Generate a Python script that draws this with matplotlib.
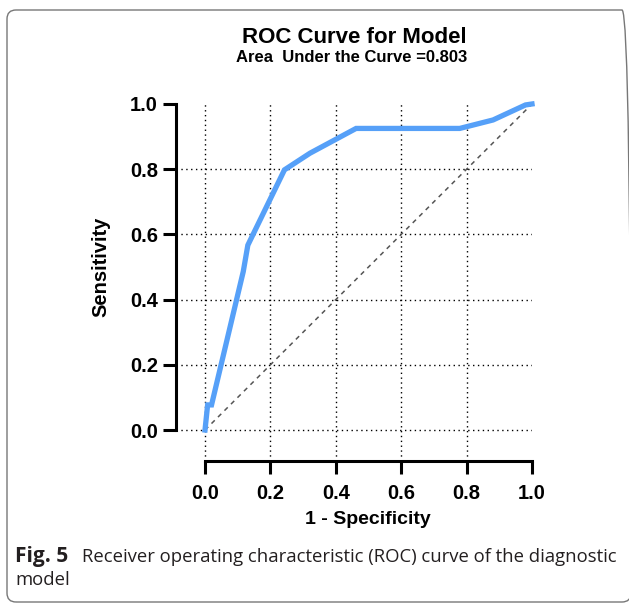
import matplotlib
matplotlib.use("Agg")
import matplotlib.pyplot as plt
import matplotlib.patches as mpatches
import matplotlib.transforms as mtransforms
import numpy as np

# ROC points
fpr = [0.0, 0.008, 0.02, 0.117, 0.131, 0.243, 0.321, 0.462, 0.779, 0.881, 0.98, 1.0]
tpr = [0.0, 0.077, 0.077, 0.486, 0.567, 0.798, 0.849, 0.925, 0.925, 0.951, 0.997, 1.0]
ticks = [0.0, 0.2, 0.4, 0.6, 0.8, 1.0]
tick_labels = ["0.0", "0.2", "0.4", "0.6", "0.8", "1.0"]

plt.rcParams['font.family'] = ['Liberation Sans', 'DejaVu Sans']

W, H = 629, 603
fig = plt.figure(figsize=(W / 100, H / 100), dpi=100)

# axes box in pixels (from top-left): x 176..532, y 103..461
ax = fig.add_axes([176 / W, (H - 461) / H, (532 - 176) / W, (461 - 103) / H])
ax.set_xlim(-0.0887, 1.0)
ax.set_ylim(-0.095, 1.003)

# dotted grid, no line on the 1.0 edge
for t in ticks[:-1]:
    ax.plot([t, t], [-0.095, 1.0], color='black', lw=1.0, ls=(0, (1, 2.5)), zorder=1)
    ax.plot([-0.0887, 1.0], [t, t], color='black', lw=1.0, ls=(0, (1, 2.5)), zorder=1)

ax.plot([0, 1], [0, 1], color='#555555', lw=1.1, ls=(0, (3, 3)), zorder=2)
ax.plot(fpr, tpr, color='#56a0f8', lw=3.8, solid_joinstyle='miter', zorder=3, clip_on=False)

for s in ['top', 'right']:
    ax.spines[s].set_visible(False)
ax.spines['left'].set_bounds(0, 1)
ax.spines['bottom'].set_bounds(0, 1)
ax.spines['left'].set_linewidth(2.2)
ax.spines['bottom'].set_linewidth(2.2)

ax.set_xticks(ticks)
ax.set_xticklabels(tick_labels)
ax.set_yticks(ticks)
ax.set_yticklabels(tick_labels)
ax.tick_params(axis='both', length=9.5, width=2.2, labelsize=14.5)
ax.tick_params(axis='x', pad=7)
ax.tick_params(axis='y', pad=3.5)
for lab in ax.get_xticklabels() + ax.get_yticklabels():
    lab.set_fontweight('bold')

ax.set_xlabel("1 - Specificity", fontsize=14, fontweight='bold')
ax.xaxis.set_label_coords(0.539, -0.14)
ax.set_ylabel("Sensitivity", fontsize=14.5, fontweight='bold')
ax.yaxis.set_label_coords(-0.185, 0.542)

fig.text(354 / W, (H - 43) / H, "ROC Curve for Model", ha='center', va='baseline',
         fontsize=16, fontweight='bold')
fig.text(352 / W, (H - 62.5) / H, "Area  Under the Curve =0.803", ha='center', va='baseline',
         fontsize=12, fontweight='bold')

cap_font = ['Open Sans', 'DejaVu Sans']
fig.text(15 / W, (H - 562) / H, "Fig. 5", ha='left', va='baseline', fontsize=15,
         fontweight='bold', family=cap_font, color='#231f20')
fig.text(82 / W, (H - 562) / H, "Receiver operating characteristic (ROC) curve of the diagnostic",
         ha='left', va='baseline', fontsize=13.3, family=cap_font, color='#231f20')
fig.text(15 / W, (H - 585) / H, "model", ha='left', va='baseline', fontsize=13.3,
         family=cap_font, color='#231f20')

# rounded frame around the whole figure, in pixel units
frame = mpatches.FancyBboxPatch((7, 1), 624, H - 11, boxstyle="round,pad=0,rounding_size=9",
                                transform=mtransforms.IdentityTransform(),
                                fill=False, edgecolor='#777777', lw=1.0)
fig.patches.append(frame)

fig.savefig("out.png", dpi=100)
